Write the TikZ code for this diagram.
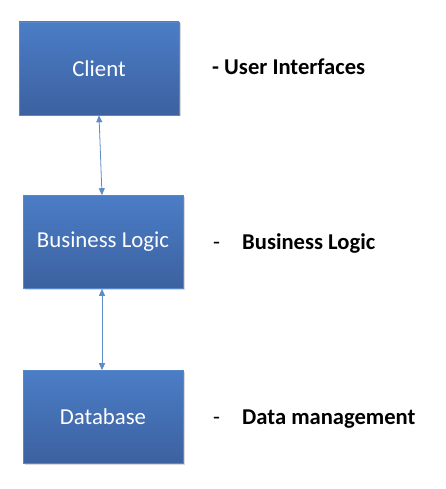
\documentclass[tikz,border=0pt]{standalone}
\usepackage{fontspec}
\setmainfont{Carlito}
\usetikzlibrary{arrows.meta,shadows}
\definecolor{boxtop}{HTML}{4B7DC6}
\definecolor{boxbot}{HTML}{3C61A0}
\definecolor{boxedge}{HTML}{5A87C8}
\definecolor{arrowc}{HTML}{5F8BC8}
\tikzset{
  tierbox/.style={rectangle, minimum width=160pt, minimum height=93pt,
    top color=boxtop, bottom color=boxbot, draw=boxedge, line width=0.6pt,
    text=white, font=\fontsize{22.8}{27}\selectfont, inner sep=0pt,
    drop shadow={shadow xshift=1.5pt, shadow yshift=-1.5pt, opacity=0.25, fill=black!60}},
  link/.style={arrowc, line width=0.8pt, {Triangle[length=7pt,width=6pt]}-{Triangle[length=7pt,width=6pt]}},
  lbl/.style={anchor=base west, inner sep=0pt, font=\fontsize{22.6}{27}\selectfont\bfseries},
  dashlbl/.style={anchor=base west, inner sep=0pt, font=\fontsize{22.6}{27}\selectfont}
}
\begin{document}
\begin{tikzpicture}[x=1pt,y=-1pt]
\useasboundingbox (0,0) rectangle (445,489);
\node[tierbox] (c) at (99,68.5) {Client};
\node[tierbox] (bl) at (103,242) {Business Logic};
\node[tierbox] (db) at (103,417) {Database};
\draw[link] (c.south) -- ([xshift=-1pt]bl.north);
\draw[link] ([xshift=-1pt]bl.south) -- ([xshift=-1pt]db.north);
\node[lbl] (l1) at (212,75) {- User Interfaces};
\node[dashlbl] (d2) at (213,249) {-};
\node[lbl] (l2) at (242,249) {Business Logic};
\node[dashlbl] (d3) at (213,424) {-};
\node[lbl] (l3) at (242,424) {Data management};
\end{tikzpicture}
\end{document}
